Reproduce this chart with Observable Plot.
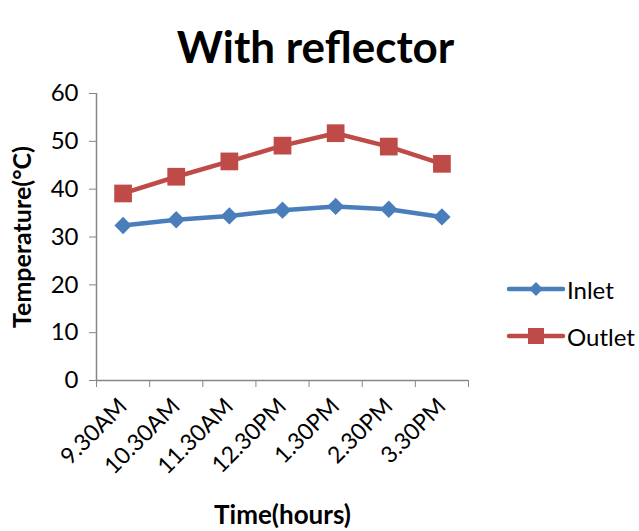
<!DOCTYPE html>
<html>
<head>
<meta charset="utf-8">
<script src="https://cdn.jsdelivr.net/npm/d3@7"></script>
<script src="https://cdn.jsdelivr.net/npm/@observablehq/plot@0.6"></script>
<style>
  body { margin: 0; background: white; }
  #wrap { position: relative; width: 639px; height: 531px; font-family: Lato, "Open Sans", sans-serif; }
  #legend { position: absolute; left: 506px; top: 274px; font-size: 24px; }
  .item { display: flex; align-items: center; height: 30px; margin-bottom: 17px; }
  .item span { margin-left: 1px; }
</style>
</head>
<body>
<div id="wrap">
  <div id="chart"></div>
  <div id="legend">
    <div class="item"><svg width="60" height="20"><line x1="3" y1="10" x2="57" y2="10" stroke="#4A7EBB" stroke-width="4.5" stroke-linecap="round"/><path d="M30,3 L37,10 L30,17 L23,10 Z" fill="#4A7EBB"/></svg><span>Inlet</span></div>
    <div class="item"><svg width="60" height="20"><line x1="3" y1="10" x2="57" y2="10" stroke="#BE4B48" stroke-width="4.5" stroke-linecap="round"/><rect x="22" y="2" width="16" height="16" fill="#BE4B48"/></svg><span>Outlet</span></div>
  </div>
</div>
<script>
const times = ["9.30AM", "10.30AM", "11.30AM", "12.30PM", "1.30PM", "2.30PM", "3.30PM"];
const inlet = [32.4, 33.6, 34.4, 35.6, 36.4, 35.8, 34.2];
const outlet = [39.1, 42.6, 45.8, 49.1, 51.7, 48.9, 45.3];
const yTicks = [0, 10, 20, 30, 40, 50, 60];

const inletData = times.map((t, i) => ({i, t, v: inlet[i]}));
const outletData = times.map((t, i) => ({i, t, v: outlet[i]}));

const axisColor = "#868686";
const font = "Lato, 'Open Sans', sans-serif";

const chart = Plot.plot({
  width: 639,
  height: 531,
  marginLeft: 96,
  marginRight: 171,
  marginTop: 93,
  marginBottom: 151,
  style: {fontFamily: font, background: "white", color: "black"},
  x: {type: "linear", domain: [-0.5, times.length - 0.5]},
  y: {domain: [0, 60]},
  marks: [
    Plot.ruleY([0], {stroke: axisColor, strokeWidth: 1.5}),
    Plot.ruleX([-0.5], {stroke: axisColor, strokeWidth: 1.5}),
    Plot.axisY({ticks: yTicks, tickSize: 7, tickPadding: 11, stroke: axisColor, fill: "black", fontSize: 24, label: null}),
    Plot.axisX({ticks: d3.range(-0.5, times.length, 1), tickSize: 7, stroke: axisColor, tickFormat: () => "", label: null}),
    Plot.axisX({ticks: d3.range(times.length), tickSize: 0, tickPadding: 22, tickRotate: -45, tickFormat: i => times[i], fill: "black", fontSize: 23, label: null}),
    Plot.line(inletData, {x: "i", y: "v", stroke: "#4A7EBB", strokeWidth: 4.5}),
    Plot.line(outletData, {x: "i", y: "v", stroke: "#BE4B48", strokeWidth: 4.5}),
    Plot.dot(inletData, {x: "i", y: "v", symbol: "diamond2", r: 7.8, fill: "#4A7EBB", stroke: "none"}),
    Plot.dot(outletData, {x: "i", y: "v", symbol: "square", r: 10, fill: "#BE4B48", stroke: "none"}),
    Plot.text(["With reflector"], {frameAnchor: "top", dx: 33, dy: -62, fontSize: 44, fontWeight: "bold", fill: "black"}),
    Plot.text(["Time(hours)"], {frameAnchor: "bottom", dy: 143, fontSize: 26, fontWeight: "bold", fill: "black"}),
    Plot.text(["Temperature(°C)"], {frameAnchor: "left", textAnchor: "middle", dx: -74, rotate: -90, fontSize: 25, fontWeight: "bold", fill: "black"})
  ]
});
document.getElementById("chart").appendChild(chart);
</script>
</body>
</html>
